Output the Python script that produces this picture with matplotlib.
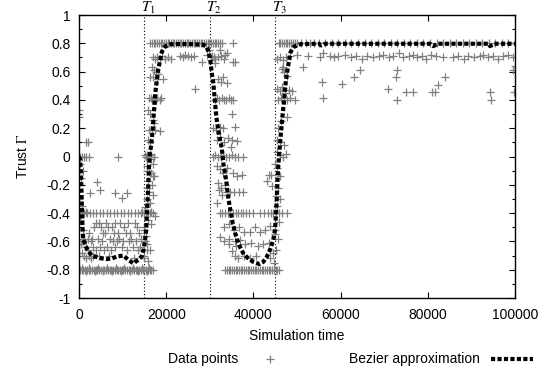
import matplotlib
matplotlib.use('Agg')
import matplotlib.pyplot as plt
from matplotlib.lines import Line2D

plt.rcParams['font.family'] = ['Liberation Sans', 'DejaVu Sans']
plt.rcParams['mathtext.fontset'] = 'stix'

# ── 시뮬레이션 구간 경계 ──
T_marks = [15000, 30000, 45000]
T_labels = ['$T_1$', '$T_2$', '$T_3$']

# ── Bezier 근사 곡선 ──
bez_x = [0, 230, 460, 620, 750, 950, 1760, 2900, 4050, 5200, 6350, 7500, 9000, 10200,
         11300, 12450, 13600, 14400, 14800, 15150, 15400, 15550, 15750, 15900, 16050,
         16250, 16500, 16750, 16950, 17100, 17300, 17450, 17650, 17950, 18200, 18600,
         19000, 19700, 20900, 22000, 25000, 28500, 29300, 29700, 30050, 30450, 30800,
         31000, 31200, 31400, 31700, 31950, 32350, 32750, 32950, 33100, 33500, 33850,
         34100, 34450, 34850, 35250, 35800, 36300, 36950, 37700, 38800, 40000, 41350,
         42250, 43050, 43800, 44550, 44950, 45150, 45350, 45500, 45700, 45950, 46300,
         46650, 47050, 47400, 47800, 48200, 48550, 49300, 50900, 55000, 55600, 56500,
         70000, 80500, 81300, 82200, 94000, 94300, 95200, 100000]
bez_y = [0.0, -0.02, -0.12, -0.30, -0.46, -0.58, -0.65, -0.70, -0.71, -0.72, -0.725,
         -0.72, -0.705, -0.70, -0.73, -0.755, -0.73, -0.705, -0.66, -0.59, -0.52, -0.42,
         -0.31, -0.19, -0.07, 0.02, 0.07, 0.14, 0.21, 0.28, 0.36, 0.43, 0.49, 0.56, 0.62,
         0.68, 0.74, 0.776, 0.793, 0.795, 0.795, 0.79, 0.775, 0.74, 0.70, 0.59, 0.52, 0.45,
         0.38, 0.31, 0.235, 0.19, 0.12, 0.06, 0.0, -0.05, -0.12, -0.19, -0.26, -0.33,
         -0.40, -0.47, -0.54, -0.59, -0.64, -0.685, -0.72, -0.745, -0.76, -0.745, -0.71,
         -0.66, -0.59, -0.52, -0.425, -0.31, -0.19, -0.07, 0.03, 0.16, 0.28, 0.40, 0.52,
         0.61, 0.68, 0.74, 0.776, 0.795, 0.797, 0.785, 0.797, 0.797, 0.797, 0.78, 0.797,
         0.797, 0.78, 0.797, 0.797]

# ── 데이터 포인트 (구간별) ──
# 첫 번째 저점 구간 -0.8 밴드
low1_band_x = [200, 600, 800, 1000, 1400, 1600, 1800, 2200, 2400, 2600, 3000, 3400, 3600,
               3800, 4200, 4400, 4600, 5000, 5400, 5600, 5800, 6200, 6400, 6600, 7000, 7400,
               7600, 7800, 8200, 8400, 8600, 9000, 9400, 9600, 9800, 10200, 10400, 10600,
               11000, 11400, 11600, 11800, 12200, 12400, 12600, 13000, 13400, 13600, 13800,
               14200, 14400, 14600, 15000, 15400, 15600, 15800, 16000, 16200, 16600, 17000]
low1_band_y = [-0.80, -0.80, -0.79, -0.80, -0.80, -0.81, -0.80, -0.80, -0.79, -0.80, -0.80,
               -0.80, -0.81, -0.80, -0.80, -0.79, -0.80, -0.80, -0.80, -0.81, -0.80, -0.80,
               -0.79, -0.80, -0.80, -0.80, -0.81, -0.80, -0.80, -0.79, -0.80, -0.80, -0.80,
               -0.81, -0.80, -0.80, -0.79, -0.80, -0.80, -0.80, -0.81, -0.80, -0.80, -0.79,
               -0.80, -0.80, -0.80, -0.81, -0.80, -0.80, -0.79, -0.80, -0.80, -0.80, -0.81,
               -0.80, -0.79, -0.80, -0.80, -0.80]
# 첫 번째 저점 구간 -0.4 줄
low1_line_x = [0, 300, 500, 700, 1000, 1200, 1500, 1800, 2500, 3200, 4000, 4800, 5600, 6400,
               7200, 8000, 8800, 9600, 10400, 11200, 12000, 12800, 13600, 14200, 14500,
               14800, 15300, 15500, 15800, 16300, 16500, 17000]
low1_line_y = [-0.40, -0.40, -0.39, -0.40, -0.39, -0.40, -0.39, -0.40, -0.40, -0.40, -0.40,
               -0.40, -0.40, -0.40, -0.40, -0.40, -0.40, -0.40, -0.40, -0.40, -0.40, -0.40,
               -0.40, -0.40, -0.39, -0.40, -0.40, -0.39, -0.40, -0.40, -0.39, -0.40]
# 첫 번째 저점 구간 흩어진 점
low1_scatter = [(4000, -0.47), (4600, -0.47), (6200, -0.47), (8300, -0.47), (9400, -0.47),
                (11200, -0.47), (12800, -0.47), (3500, -0.50), (5100, -0.50), (6700, -0.50),
                (7500, -0.50), (10300, -0.50), (13200, -0.50), (14800, -0.50), (2400, -0.54),
                (5600, -0.54), (6000, -0.54), (8000, -0.54), (9000, -0.54), (10700, -0.54),
                (11700, -0.54), (13700, -0.54), (600, -0.58), (1200, -0.58), (2100, -0.58),
                (3000, -0.58), (4400, -0.58), (7100, -0.58), (9200, -0.58), (12000, -0.58),
                (14300, -0.58), (900, -0.60), (2700, -0.60), (5300, -0.60), (7800, -0.60),
                (8600, -0.60), (10000, -0.60), (11500, -0.60), (13000, -0.60), (15200, -0.60),
                (1500, -0.64), (3300, -0.64), (4900, -0.64), (6500, -0.64), (8200, -0.64),
                (9800, -0.64), (12300, -0.64), (14000, -0.64), (2000, -0.66), (3800, -0.66),
                (5800, -0.66), (7300, -0.66), (10900, -0.66), (13500, -0.66), (15600, -0.66),
                (1100, -0.70), (2300, -0.70), (3100, -0.70), (4700, -0.70), (6900, -0.70),
                (1700, -0.72), (2800, -0.72), (12600, -0.72), (15000, -0.72)]
low1_upper = [(100, 0.33), (0, 0.28), (1600, 0.10), (2000, 0.10), (300, 0.0), (800, 0.0),
              (1200, 0.0), (1600, 0.0), (2200, 0.0), (9000, 0.0), (1000, -0.10),
              (4050, -0.18), (4800, -0.24), (8300, -0.255), (10900, -0.255), (9800, -0.29),
              (2500, -0.26), (200, -0.05), (500, -0.15), (100, -0.30), (700, -0.35),
              (300, -0.45), (900, -0.52), (400, -0.62), (600, -0.68)]
rise1_col = [(15400, 0.0), (15800, 0.0), (16200, 0.02), (16600, -0.02), (17000, -0.05),
             (15600, -0.10), (16400, -0.12), (17200, -0.14), (15900, -0.17), (16700, -0.20),
             (15500, -0.22), (16100, -0.25), (16900, -0.27), (15700, -0.30), (16300, -0.33),
             (15200, -0.36), (15900, -0.45), (16500, -0.48), (14800, -0.52), (15300, -0.56),
             (15600, -0.62), (16200, -0.66), (17400, -0.42), (15000, -0.70), (15800, -0.74)]
# 첫 번째 상승 및 고점 구간
high1_band_x = [16300, 16700, 17100, 17500, 17900, 18300, 18700, 19100, 19500, 19900, 20300,
                20700, 21100, 21500, 21900, 22300, 22700, 23100, 23500, 23900, 24300, 24700,
                25100, 25500, 25900, 26300, 26700, 27100, 27500, 27900, 28300, 28700, 29100,
                29500, 29900, 30300, 30700, 31100, 31500, 31900, 32300, 32800, 35400]
high1_row = [(16900, 0.70), (17400, 0.69), (17900, 0.70), (18500, 0.69), (19100, 0.71),
             (19700, 0.69), (20300, 0.70), (21000, 0.69), (23200, 0.71), (23800, 0.70),
             (24400, 0.72), (25000, 0.71), (25600, 0.70), (26300, 0.71), (28100, 0.67),
             (30500, 0.71), (31200, 0.69), (31900, 0.70), (32600, 0.71), (33300, 0.69),
             (34000, 0.73), (35800, 0.67), (26600, 0.475)]
rise1_pts = [(16700, 0.63), (17100, 0.61), (17600, 0.60), (18200, 0.58), (16300, 0.56),
             (16900, 0.56), (17800, 0.55), (19300, 0.55), (16100, 0.41), (16500, 0.41),
             (16800, 0.40), (17200, 0.41), (17600, 0.40), (18000, 0.41), (18500, 0.40),
             (18900, 0.41), (15900, 0.33), (16300, 0.30), (17000, 0.26), (17300, 0.24),
             (16000, 0.19), (16800, 0.19), (17500, 0.19), (18600, 0.18), (15900, 0.12),
             (16300, 0.10), (15200, 0.01), (15600, 0.01), (16000, 0.0), (16600, 0.01),
             (17200, 0.0), (15500, -0.07), (16100, -0.10), (16900, -0.14)]
# 두 번째 하락 구간
fall2_pts = [(29300, 0.72), (29800, 0.75), (30300, 0.68), (30900, 0.70), (31200, 0.66),
             (32300, 0.75), (33500, 0.72), (35400, 0.67), (31900, 0.55), (32500, 0.53),
             (33100, 0.56), (33900, 0.52), (31200, 0.40), (31700, 0.41), (32200, 0.40),
             (32700, 0.41), (33200, 0.40), (33700, 0.40), (34300, 0.41), (34800, 0.40),
             (35300, 0.40), (35000, 0.30), (30700, 0.20), (31500, 0.19), (32400, 0.21),
             (33000, 0.20), (35800, 0.21), (31600, 0.12), (32300, 0.14), (33300, 0.10),
             (34200, 0.13), (35200, 0.12), (36200, 0.11), (34900, 0.07), (30700, 0.0),
             (31300, 0.01), (31900, 0.0), (32500, 0.0), (33100, 0.01), (33700, 0.0),
             (34300, 0.0), (35000, 0.01), (35700, 0.0), (36500, 0.0), (37600, 0.0)]
# 두 번째 저점 구간
low2_pts = [(31700, -0.07), (32400, -0.09), (33000, -0.12), (33900, -0.08), (35300, -0.12),
            (36300, -0.14), (37500, -0.13), (31900, -0.19), (32600, -0.22), (33400, -0.20),
            (32000, -0.24), (32800, -0.27), (34600, -0.25), (34000, -0.25), (35500, -0.25),
            (36600, -0.25), (37600, -0.25), (31600, -0.33), (33200, -0.50), (34300, -0.48),
            (35600, -0.52), (36800, -0.50), (37900, -0.53), (39200, -0.53), (40300, -0.50),
            (41500, -0.53), (42600, -0.52), (43700, -0.49), (44900, -0.52), (32400, -0.57),
            (33300, -0.60), (34500, -0.58), (35800, -0.60), (36900, -0.59), (34400, -0.62),
            (35900, -0.63), (38000, -0.62), (39500, -0.61), (41000, -0.63), (42300, -0.62),
            (43600, -0.61), (35100, -0.67), (35700, -0.70), (36500, -0.72), (37800, -0.70),
            (39300, -0.72), (40600, -0.70), (43800, -0.72), (44500, -0.68), (44700, -0.75),
            (45200, -0.66), (45600, -0.58), (44900, -0.55), (45800, -0.46), (45400, -0.35),
            (46000, -0.30), (45100, -0.28), (44300, -0.21), (43200, -0.17), (43500, -0.13),
            (45700, -0.22), (46100, -0.14), (45400, -0.08), (44100, -0.13)]
low2_line_x = [32300, 32900, 33500, 34100, 34700, 35300, 35900, 36500, 37100, 37700, 38300,
               38900, 40000, 41500, 42500, 43400, 44000, 44600, 45200, 45800, 46500, 47600]
low2_band_x = [33500, 33900, 34300, 34700, 35100, 35500, 35900, 36300, 36700, 37100, 37500,
               37900, 38300, 38700, 39100, 39500, 39900, 40300, 40700, 41100, 41500, 41900,
               42300, 42700, 43100, 43500, 43900, 44300, 44700, 45100, 45500, 45900]
# 세 번째 상승 및 고점 구간
rise3_pts = [(45400, 0.69), (46100, 0.70), (46800, 0.68), (47500, 0.70), (46500, 0.62),
             (47000, 0.60), (47600, 0.57), (46900, 0.63), (45400, 0.48), (46000, 0.46),
             (46600, 0.49), (47300, 0.45), (48100, 0.47), (48900, 0.46), (45600, 0.40),
             (46300, 0.41), (47000, 0.40), (47700, 0.40), (48500, 0.41), (49500, 0.40),
             (47600, 0.28), (45500, 0.12), (46200, 0.10), (47000, 0.08), (45400, 0.03),
             (46000, 0.01), (46700, 0.0), (47500, 0.02), (45000, -0.05), (45600, 0.20),
             (46300, 0.25)]
high3_band_x = [45800, 46200, 46600, 47000, 47400, 47800, 48200, 48600, 49000, 49500, 50000,
                51000, 52000, 53000, 54000, 55000, 56500, 58000, 59500, 61000, 62500, 64000,
                65500, 67000, 68500, 70000, 71500, 73000, 74500, 76000, 77500, 79000, 80500,
                82000, 83500, 85000, 86500, 88000, 89500, 91000, 92500, 94000, 95500, 97000,
                98500, 100000]
high3_row = [(52600, 0.71), (55300, 0.70), (55900, 0.73), (57600, 0.71), (58600, 0.70),
             (59500, 0.71), (61000, 0.72), (62500, 0.70), (63600, 0.71), (64800, 0.69),
             (66000, 0.71), (67500, 0.70), (68700, 0.71), (69800, 0.72), (71000, 0.70),
             (72100, 0.71), (73300, 0.73), (74400, 0.70), (75600, 0.71), (76700, 0.72),
             (77500, 0.70), (78600, 0.71), (79700, 0.69), (80800, 0.72), (81900, 0.71),
             (83500, 0.70), (85800, 0.70), (87000, 0.71), (88200, 0.69), (89300, 0.71),
             (90500, 0.70), (92000, 0.71), (92700, 0.72), (93900, 0.70), (95000, 0.71),
             (96200, 0.69), (97300, 0.71), (98400, 0.72), (99500, 0.70), (48500, 0.71),
             (50000, 0.72)]
high3_outliers = [(51450, 0.635), (55660, 0.53), (56040, 0.416), (60250, 0.51), (63070, 0.56),
                  (64450, 0.61), (70940, 0.475), (72700, 0.56), (72860, 0.61), (72860, 0.40),
                  (75100, 0.458), (76680, 0.458), (80890, 0.458), (81650, 0.458),
                  (82410, 0.505), (83940, 0.56), (94270, 0.458), (94420, 0.40),
                  (99800, 0.458), (99620, 0.61), (99900, 0.64)]

# ── 포인트 합치기 ──
pts_x = list(low1_band_x) + list(low1_line_x) + list(low2_line_x) + list(low2_band_x) \
    + list(high1_band_x) + list(high3_band_x)
pts_y = list(low1_band_y) + list(low1_line_y) + [-0.40] * len(low2_line_x) \
    + [-0.80] * len(low2_band_x) + [0.80] * len(high1_band_x) + [0.80] * len(high3_band_x)
for grp in [low1_scatter, low1_upper, rise1_col, high1_row, rise1_pts, fall2_pts,
            low2_pts, rise3_pts, high3_row, high3_outliers]:
    pts_x += [p[0] for p in grp]
    pts_y += [p[1] for p in grp]

FS = 10
fig = plt.figure(figsize=(5.43, 3.79), dpi=100)
ax = fig.add_axes([0.1455, 0.2137, 0.8029, 0.7467])

for t in T_marks:
    ax.axvline(t, color='black', linewidth=0.8, linestyle=(0, (1, 2)), zorder=1)

ax.plot(pts_x, pts_y, linestyle='none', marker='+', markersize=5.5, markeredgewidth=0.9,
        color='#808080', zorder=2)
ax.plot(bez_x, bez_y, color='black', linewidth=3, linestyle=(0, (1, 0.55)), zorder=3)

ax.set_xlim(0, 100000)
ax.set_ylim(-1, 1)
ax.set_xticks([0, 20000, 40000, 60000, 80000, 100000])
ax.set_yticks([-1, -0.8, -0.6, -0.4, -0.2, 0, 0.2, 0.4, 0.6, 0.8, 1])
ax.set_yticklabels(['-1', '-0.8', '-0.6', '-0.4', '-0.2', '0', '0.2', '0.4', '0.6', '0.8', '1'])
ax.set_yticks([-0.9, -0.7, -0.5, -0.3, -0.1, 0.1, 0.3, 0.5, 0.7, 0.9], minor=True)
ax.tick_params(which='both', direction='in', top=True, right=True, labelsize=FS, width=0.8)
ax.tick_params(which='major', length=4.5)
ax.tick_params(which='minor', length=2.2)
ax.tick_params(axis='x', pad=7)
ax.tick_params(axis='y', pad=6)
for spine in ax.spines.values():
    spine.set_linewidth(1.0)

ax.set_xlabel('Simulation time', fontsize=FS, labelpad=5)
ax.set_ylabel('Trust $\\Gamma$', fontsize=FS, labelpad=12)

for t, lab in zip(T_marks, T_labels):
    ax.annotate(lab, xy=(t, 1.0), xycoords=('data', 'axes fraction'),
                xytext=(3, -1), textcoords='offset points',
                ha='center', va='bottom', fontsize=11, annotation_clip=False)

legend_elements = [
    Line2D([0], [0], linestyle='none', marker='+', markersize=5.5, markeredgewidth=0.9,
           color='#808080', label='Data points'),
    Line2D([0], [0], color='black', linewidth=3, linestyle=(0, (1, 0.55)),
           label='Bezier approximation'),
]
fig.legend(handles=legend_elements, loc='lower center', bbox_to_anchor=(0.645, 0.0),
           ncol=2, markerfirst=False, frameon=False, fontsize=FS, handlelength=3.0,
           columnspacing=4.2)

plt.savefig('out.png', dpi=100)
plt.close()
